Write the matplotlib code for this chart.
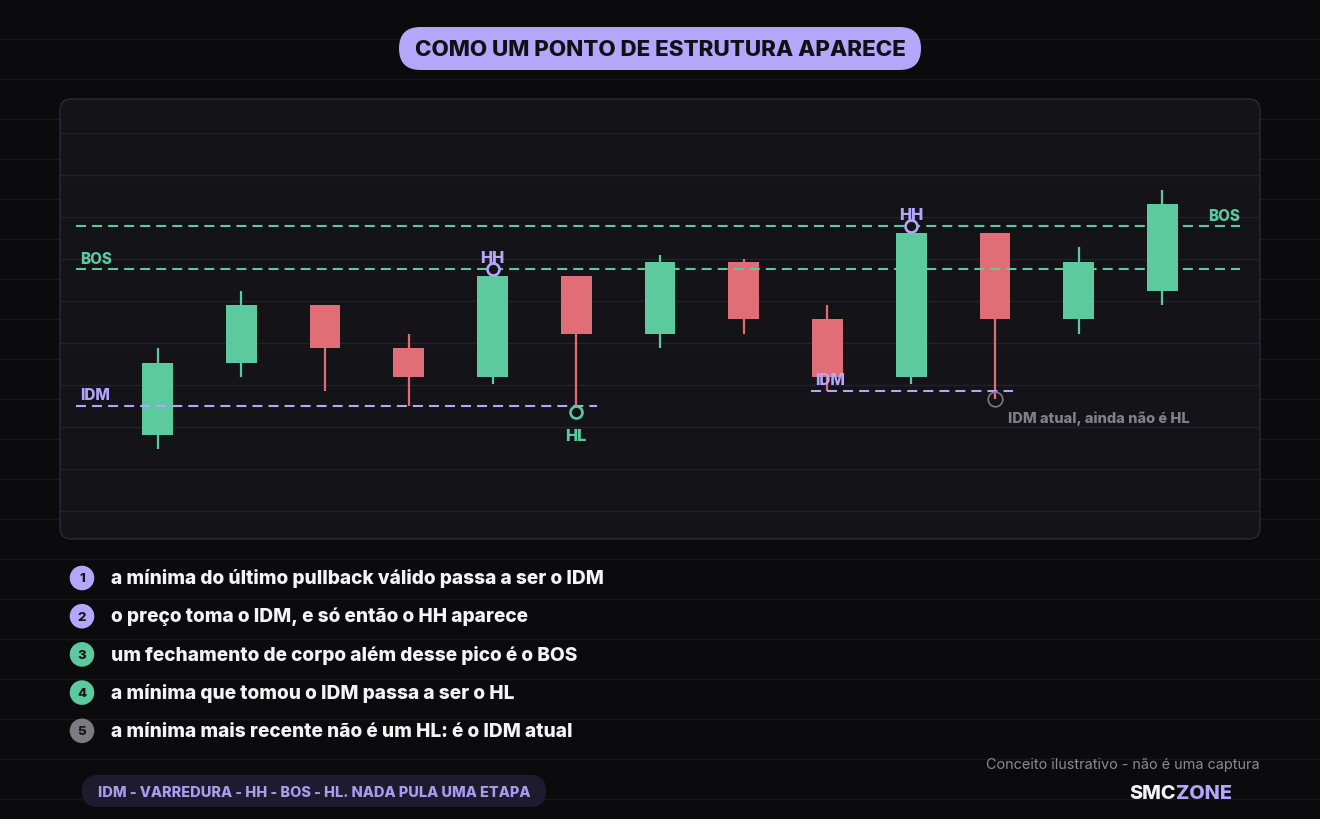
import matplotlib
matplotlib.use("Agg")
import matplotlib.pyplot as plt
from matplotlib.patches import FancyBboxPatch, Circle

# ---------------- data ----------------
idx = list(range(13))
opens  = [101, 106, 110, 107, 105,   112, 108,   113,   109, 105,   115,   109, 111]
closes = [106, 110, 107, 105, 112,   108, 113,   109,   105, 115,   109,   113, 117]
highs  = [107, 111, 110, 108, 112,   112, 113.5, 113.2, 110, 115,   115,   114, 118]
lows   = [100, 105, 104, 103, 104.5, 103, 107,   108,   104, 104.5, 103.5, 108, 110]

bos_levels = [112.5, 115.5]
idm_left_level = 103
idm_right_level = 104
hh_points = [(4, 112.5), (9, 115.5)]
hl_point = (5, 102.55)
idm_now_point = (10, 103.5)

title = "COMO UM PONTO DE ESTRUTURA APARECE"
steps = [
    "a mínima do último pullback válido passa a ser o IDM",
    "o preço toma o IDM, e só então o HH aparece",
    "um fechamento de corpo além desse pico é o BOS",
    "a mínima que tomou o IDM passa a ser o HL",
    "a mínima mais recente não é um HL: é o IDM atual",
]
footer = "IDM - VARREDURA - HH - BOS - HL. NADA PULA UMA ETAPA"
note = "Conceito ilustrativo - não é uma captura"

# ---------------- style ----------------
BG = "#0b0b0d"
PANEL = "#131318"
PANEL_EDGE = "#2a2a33"
GRID_BG = "#17171b"
GRID_PANEL = "#222228"
GREEN = "#5cc99e"
RED = "#e16d77"
LAV = "#b4a7fb"
GREY = "#7b7b80"
FONT = ["Inter", "DejaVu Sans"]
plt.rcParams["font.family"] = FONT
HEAVY = "heavy"

W, H = 1320, 820
fig = plt.figure(figsize=(W / 100, H / 100), dpi=100, facecolor=BG)

# background axes in pixel coordinates
bg = fig.add_axes([0, 0, 1, 1])
bg.set_xlim(0, W)
bg.set_ylim(H, 0)
bg.axis("off")
bg.set_facecolor(BG)

for yy in range(40, H, 40):
    bg.plot([0, W], [yy, yy], color=GRID_BG, lw=1.0, zorder=0)

panel = FancyBboxPatch((60, 100), 1200, 440,
                       boxstyle="round,pad=0,rounding_size=11",
                       fc=PANEL, ec=PANEL_EDGE, lw=1.0, zorder=1)
bg.add_patch(panel)
for k in range(10):
    yy = 134 + 42 * k
    bg.plot([61, 1259], [yy, yy], color=GRID_PANEL, lw=1.0, zorder=2)

# title pill
pill = FancyBboxPatch((399, 28), 522, 43,
                      boxstyle="round,pad=0,rounding_size=21.5",
                      fc=LAV, ec="none", zorder=3)
bg.add_patch(pill)
bg.text(660, 50.5, title, ha="center", va="center", fontsize=16.1,
        fontweight=HEAVY, color="#111015", zorder=4)

# numbered list
step_colors = [LAV, LAV, GREEN, GREEN, GREY]
for i, (s, c) in enumerate(zip(steps, step_colors)):
    yy = 579 + 38.2 * i
    bg.add_patch(Circle((82, yy), 12.3, fc=c, ec="none", zorder=3))
    bg.text(82, yy + 0.5, str(i + 1), ha="center", va="center", fontsize=9.5,
            fontweight=HEAVY, color="#16151c", zorder=4)
    bg.text(111, yy, s, ha="left", va="center", fontsize=13.72,
            fontweight=HEAVY, color="#f4f4f6", zorder=4)

# footer pill
fp = FancyBboxPatch((82, 776), 464, 32,
                    boxstyle="round,pad=0,rounding_size=16",
                    fc="#1e1b2e", ec="none", zorder=3)
bg.add_patch(fp)
bg.text(314, 793.5, footer, ha="center", va="center", fontsize=10.45,
        fontweight=HEAVY, color="#a99cf0", zorder=4)

bg.text(1260, 765, note, ha="right", va="center", fontsize=10.4,
        color="#8b8b90", zorder=4)
zone = bg.text(1232, 794, "ZONE", ha="right", va="center", fontsize=14.3,
               fontweight=HEAVY, color=LAV, zorder=4)
bg.annotate("SMC", xy=(0, 0.5), xycoords=zone, ha="right", va="center",
            fontsize=14.3, fontweight=HEAVY, color="#f4f4f6", zorder=4)

# ---------------- chart axes ----------------
ax = fig.add_axes([60 / W, (H - 540) / H, 1200 / W, 440 / H])
ax.set_facecolor("none")
ax.set_xlim(-1.1642, 13.1642)
ax.set_ylim(93.75, 124.306)
ax.axis("off")

body_w = 0.37
for i, o, c, h, l in zip(idx, opens, closes, highs, lows):
    col = GREEN if c >= o else RED
    ax.vlines(i, l, h, color=col, lw=1.6, zorder=3)
    ax.bar(i, abs(c - o), bottom=min(o, c), width=body_w, color=col,
           edgecolor="none", zorder=4)

dash = (0, (4.8, 2.9))
for lv in bos_levels:
    ax.plot([-0.97, 12.92], [lv, lv], color=GREEN, lw=1.5, ls=dash, zorder=5)
ax.plot([-0.97, 5.25], [idm_left_level, idm_left_level], color=LAV, lw=1.5,
        ls=dash, zorder=5)
ax.plot([7.80, 10.21], [idm_right_level, idm_right_level], color=LAV, lw=1.5,
        ls=dash, zorder=5)

for (x, y) in hh_points:
    ax.plot(x, y, "o", ms=8.6, mfc=PANEL, mec=LAV, mew=1.9, zorder=6)
    ax.text(x, y + 0.78, "HH", ha="center", va="center", fontsize=11.8,
            fontweight=HEAVY, color=LAV, zorder=7)
ax.plot(hl_point[0], hl_point[1], "o", ms=8.6, mfc=PANEL, mec=GREEN, mew=1.9,
        zorder=6)
ax.text(hl_point[0], hl_point[1] - 1.58, "HL", ha="center", va="center",
        fontsize=11.8, fontweight=HEAVY, color=GREEN, zorder=7)
ax.plot(idm_now_point[0], idm_now_point[1], "o", ms=10.5, mfc="none",
        mec=GREY, mew=1.2, zorder=6)
ax.text(10.16, 102.15, "IDM atual, ainda não é HL", ha="left", va="center",
        fontsize=10.5, fontweight=HEAVY, color="#808086", zorder=7)

lab = 11.0
ax.text(-0.925, 113.26, "BOS", ha="left", va="center", fontsize=lab,
        fontweight=HEAVY, color=GREEN, zorder=7)
ax.text(12.925, 116.25, "BOS", ha="right", va="center", fontsize=lab,
        fontweight=HEAVY, color=GREEN, zorder=7)
ax.text(-0.925, 103.8, "IDM", ha="left", va="center", fontsize=lab,
        fontweight=HEAVY, color=LAV, zorder=7)
ax.text(7.85, 104.8, "IDM", ha="left", va="center", fontsize=lab,
        fontweight=HEAVY, color=LAV, zorder=7)

fig.savefig("out.png", dpi=100, facecolor=BG)
